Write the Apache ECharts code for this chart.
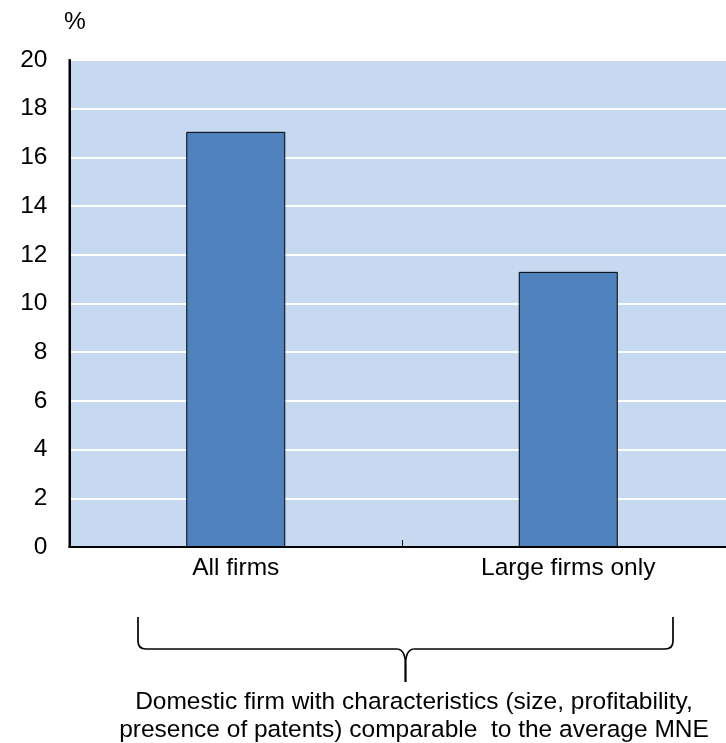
<!DOCTYPE html>
<html>
<head>
<meta charset="utf-8">
<script src="https://cdn.jsdelivr.net/npm/echarts@6/dist/echarts.min.js"></script>
<style>
  html, body { margin: 0; padding: 0; background: #fff; }
  #chart { width: 726px; height: 743px; }
</style>
</head>
<body>
<div id="chart"></div>
<script>
// Categories and values (%)
const categories = ['All firms', 'Large firms only'];
const values = [17.05, 11.3];
const yTicks = { min: 0, max: 20, interval: 2 };
const unitLabel = '%';
const braceNote = 'Domestic firm with characteristics (size, profitability,\npresence of patents) comparable  to the average MNE';

const FONT = "'Liberation Sans', Arial, Helvetica, sans-serif";
const FS = 24.5;

const chart = echarts.init(document.getElementById('chart'), null, { renderer: 'canvas' });

// Curly brace under both categories: two mirrored halves meeting in a short stem
const braceStyle = { fill: null, stroke: '#000', lineWidth: 1.7 };
const brace = { top: 617, bar: 649, tipX: 405.5, joinY: 665, tipY: 682 };
function braceHalf(xEnd, dir) {
  // dir = +1 for the left half, -1 for the right half
  const { top, bar, tipX, joinY } = brace;
  return [
    { type: 'line', shape: { x1: xEnd, y1: top, x2: xEnd, y2: bar - 8 }, style: braceStyle },
    { type: 'bezierCurve', shape: { x1: xEnd, y1: bar - 8, cpx1: xEnd, cpy1: bar, x2: xEnd + 8 * dir, y2: bar }, style: braceStyle },
    { type: 'line', shape: { x1: xEnd + 8 * dir, y1: bar, x2: tipX - 8 * dir, y2: bar }, style: braceStyle },
    { type: 'bezierCurve', shape: { x1: tipX - 8 * dir, y1: bar, cpx1: tipX, cpy1: bar + 1, x2: tipX, y2: joinY }, style: braceStyle }
  ];
}

chart.setOption({
  animation: false,
  backgroundColor: '#ffffff',
  textStyle: { fontFamily: FONT },
  title: {
    text: unitLabel,
    left: 59,
    top: 5,
    textStyle: { fontFamily: FONT, fontSize: FS, fontWeight: 'normal', color: '#000' }
  },
  grid: {
    left: 69.5,
    right: -8.5,
    top: 60,
    bottom: 196,
    outerBoundsMode: 'none',
    containLabel: false,
    show: true,
    backgroundColor: '#C6D9F1',
    borderColor: '#000',
    borderWidth: 2
  },
  xAxis: {
    type: 'category',
    data: categories,
    axisLine: { show: true, lineStyle: { color: '#000', width: 2 } },
    axisTick: { show: true, inside: true, length: 7, lineStyle: { color: '#000', width: 1 } },
    axisLabel: { color: '#000', fontSize: FS, fontFamily: FONT, margin: 9 },
    splitLine: { show: false }
  },
  yAxis: {
    type: 'value',
    min: yTicks.min,
    max: yTicks.max,
    interval: yTicks.interval,
    axisLine: { show: true, lineStyle: { color: '#000', width: 2 } },
    axisTick: { show: false },
    axisLabel: { color: '#000', fontSize: FS, fontFamily: FONT, margin: 22 },
    splitLine: { show: true, lineStyle: { color: '#ffffff', width: 2 } }
  },
  series: [{
    type: 'bar',
    data: values,
    barWidth: 99,
    itemStyle: { color: '#4F81BD', borderColor: '#000', borderWidth: 1 },
    z: 3
  }],
  graphic: [
    ...braceHalf(138, 1),
    ...braceHalf(673, -1),
    { type: 'line', shape: { x1: brace.tipX, y1: brace.joinY, x2: brace.tipX, y2: brace.tipY }, style: { stroke: '#000', lineWidth: 2.2 } },
    {
      type: 'text',
      x: 414,
      y: 716,
      style: {
        text: braceNote,
        fill: '#000',
        font: FS + "px " + FONT,
        align: 'center',
        verticalAlign: 'middle',
        lineHeight: 27.5
      }
    }
  ]
});
</script>
</body>
</html>
